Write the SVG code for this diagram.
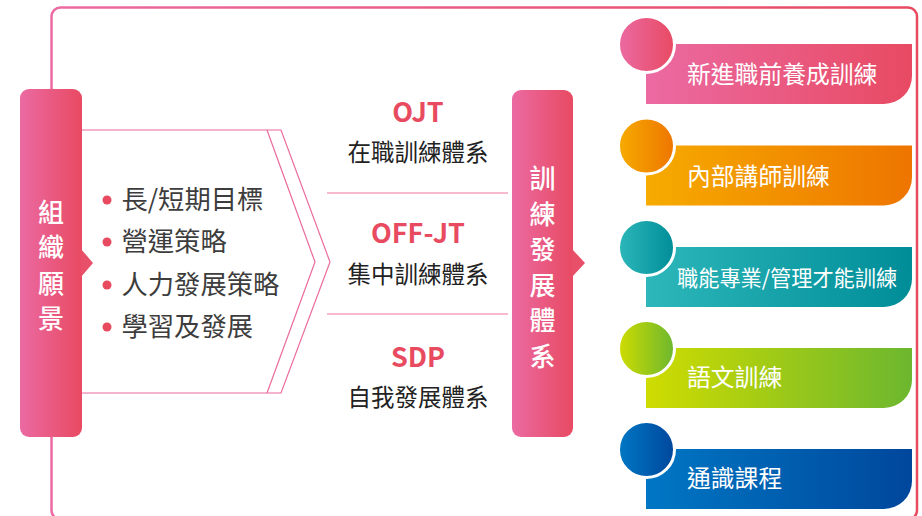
<svg xmlns="http://www.w3.org/2000/svg" width="922" height="516" viewBox="0 0 922 516">
<defs>
<linearGradient id="gPink" x1="0" y1="0" x2="1" y2="0"><stop offset="0" stop-color="#eb6aa2"/><stop offset="1" stop-color="#e84a62"/></linearGradient>
<linearGradient id="gFrame" x1="0" y1="0" x2="1" y2="0"><stop offset="0" stop-color="#ec6aa2"/><stop offset="1" stop-color="#e84a60"/></linearGradient>
<linearGradient id="gOrange" x1="0" y1="0" x2="1" y2="0"><stop offset="0" stop-color="#f6ab00"/><stop offset="1" stop-color="#ee7500"/></linearGradient>
<linearGradient id="gTeal" x1="0" y1="0" x2="1" y2="0"><stop offset="0" stop-color="#2db7ba"/><stop offset="1" stop-color="#008d98"/></linearGradient>
<linearGradient id="gGreen" x1="0" y1="0" x2="1" y2="0"><stop offset="0" stop-color="#cfdc00"/><stop offset="1" stop-color="#6cb72f"/></linearGradient>
<linearGradient id="gBlue" x1="0" y1="0" x2="1" y2="0"><stop offset="0" stop-color="#0077c4"/><stop offset="1" stop-color="#00479c"/></linearGradient>
</defs>
<style>
text{font-family:"Noto Sans CJK TC","Noto Sans CJK SC","Noto Sans",sans-serif}
.vt{fill:#fff;font-size:26px;font-weight:500;text-anchor:middle}
.bul{fill:#3d3d3d;font-size:26.3px}
.dot{fill:#e84a5f}
.hd{fill:#e84a5f;font-size:27px;font-weight:700;text-anchor:middle}
.sub{fill:#222;font-size:23.5px;text-anchor:middle}
.it{fill:#fff;font-size:23.8px}
.ring{stroke:#fff;stroke-width:3}
.sep{stroke:#f5a3bf;stroke-width:1.5}
.chev{fill:none;stroke:#ea6a9c;stroke-width:1.2}
</style>
<g id="frame">
<rect x="51.5" y="7.5" width="865.5" height="512" rx="9" fill="none" stroke="url(#gFrame)" stroke-width="2.5"/>
</g>
<g id="connectors">
<line class="sep" x1="327" y1="193" x2="508" y2="193"/>
<line class="sep" x1="327" y1="314" x2="508" y2="314"/>
</g>
<g id="vision">
<rect x="20" y="89" width="62" height="348" rx="9" fill="url(#gPink)"/>
<polygon points="81,249 93,263 81,277" fill="#e84f68"/>
<text class="vt" x="51" y="222">組</text>
<text class="vt" x="51" y="257">織</text>
<text class="vt" x="51" y="293">願</text>
<text class="vt" x="51" y="328">景</text>
</g>
<g id="chevron">
<polyline class="chev" points="82,130 281,130 330,262 281,393 82,393"/>
<polyline class="chev" points="267,130 315,262 267,393"/>
<circle class="dot" cx="107" cy="200" r="4.5"/>
<circle class="dot" cx="107" cy="242" r="4.5"/>
<circle class="dot" cx="107" cy="285" r="4.5"/>
<circle class="dot" cx="107" cy="327" r="4.5"/>
<text class="bul" x="121.5" y="209">長/短期目標</text>
<text class="bul" x="121.5" y="251">營運策略</text>
<text class="bul" x="121.5" y="294">人力發展策略</text>
<text class="bul" x="121.5" y="336">學習及發展</text>
</g>
<g id="ojt">
<text class="hd" x="418" y="122">OJT</text>
<text class="sub" x="418" y="161">在職訓練體系</text>
</g>
<g id="offjt">
<text class="hd" x="418" y="243">OFF-JT</text>
<text class="sub" x="418" y="283">集中訓練體系</text>
</g>
<g id="sdp">
<text class="hd" x="418" y="367">SDP</text>
<text class="sub" x="418" y="406">自我發展體系</text>
</g>
<g id="system">
<rect x="512" y="90" width="61" height="347" rx="9" fill="url(#gPink)"/>
<polygon points="572,249 585,263 572,277" fill="#e84f68"/>
<text class="vt" x="542.5" y="188">訓</text>
<text class="vt" x="542.5" y="223.5">練</text>
<text class="vt" x="542.5" y="259">發</text>
<text class="vt" x="542.5" y="294.5">展</text>
<text class="vt" x="542.5" y="330">體</text>
<text class="vt" x="542.5" y="365.5">系</text>
</g>
<g id="item1">
<path d="M646,44H912V76A28,28 0 0 1 884,104H646Z" fill="url(#gPink)"/>
<circle class="ring" cx="646.5" cy="44.5" r="28" fill="url(#gPink)"/>
<text class="it" x="687" y="83">新進職前養成訓練</text>
</g>
<g id="item2">
<path d="M646,145.5H912V177.5A28,28 0 0 1 884,205.5H646Z" fill="url(#gOrange)"/>
<circle class="ring" cx="646.5" cy="146" r="28" fill="url(#gOrange)"/>
<text class="it" x="687" y="184.5">內部講師訓練</text>
</g>
<g id="item3">
<path d="M646,247H912V279A28,28 0 0 1 884,307H646Z" fill="url(#gTeal)"/>
<circle class="ring" cx="646.5" cy="247.5" r="28" fill="url(#gTeal)"/>
<text class="it" x="677" y="285.5" style="font-size:21.2px">職能專業/管理才能訓練</text>
</g>
<g id="item4">
<path d="M646,348H912V380A28,28 0 0 1 884,408H646Z" fill="url(#gGreen)"/>
<circle class="ring" cx="646.5" cy="348.5" r="28" fill="url(#gGreen)"/>
<text class="it" x="687" y="386">語文訓練</text>
</g>
<g id="item5">
<path d="M646,449H912V481A28,28 0 0 1 884,509H646Z" fill="url(#gBlue)"/>
<circle class="ring" cx="646.5" cy="449.5" r="28" fill="url(#gBlue)"/>
<text class="it" x="687" y="487">通識課程</text>
</g>
</svg>
